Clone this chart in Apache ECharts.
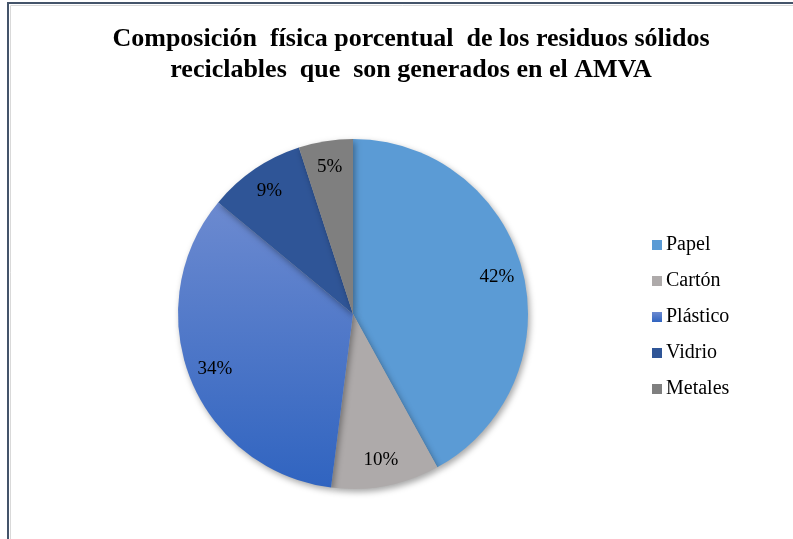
<!DOCTYPE html>
<html>
<head>
<meta charset="utf-8">
<script src="https://cdn.jsdelivr.net/npm/echarts@6/dist/echarts.min.js"></script>
<style>
  html, body { margin: 0; padding: 0; background: #fff; }
  #chart { width: 793px; height: 539px; }
</style>
</head>
<body>
<div id="chart"></div>
<script>
// données
var categories = ['Papel', 'Cartón', 'Plástico', 'Vidrio', 'Metales'];
var valores = [42, 10, 34, 9, 5];
var colores = [
  '#5b9bd5',
  '#aeaaaa',
  { type: 'linear', x: 0, y: 0, x2: 0, y2: 1,
    colorStops: [{ offset: 0, color: '#6c8ad0' }, { offset: 1, color: '#3064c0' }] },
  '#2f5597',
  '#7f7f7f'
];

var serif = '"Liberation Serif", "DejaVu Serif", serif';

var datos = categories.map(function (c, i) {
  return { name: c, value: valores[i], itemStyle: { color: colores[i] } };
});

var chart = echarts.init(document.getElementById('chart'));
chart.setOption({
  animation: false,
  title: {
    text: 'Composición  física porcentual  de los residuos sólidos\nreciclables  que  son generados en el AMVA',
    left: 406,
    top: 19,
    textAlign: 'center',
    textStyle: {
      fontFamily: serif,
      fontWeight: 'bold',
      fontSize: 26,
      lineHeight: 31,
      color: '#000'
    }
  },
  legend: {
    orient: 'vertical',
    left: 647,
    top: 230,
    icon: 'rect',
    itemWidth: 10,
    itemHeight: 10,
    itemGap: 16,
    data: categories,
    textStyle: { fontFamily: serif, fontSize: 20, color: '#000', padding: [0, 0, 0, -1] }
  },
  graphic: [
    { type: 'rect', shape: { x: 8, y: 3, width: 900, height: 700 },
      style: { fill: 'none', stroke: '#44546a', lineWidth: 2 }, silent: true },
    { type: 'rect', shape: { x: 10.5, y: 5.5, width: 900, height: 700 },
      style: { fill: 'none', stroke: '#d9d9d9', lineWidth: 1 }, silent: true }
  ],
  series: [
    {
      name: 'Composición',
      type: 'pie',
      center: [353, 314],
      radius: [0, 175],
      startAngle: 90,
      clockwise: true,
      label: { show: false },
      labelLine: { show: false },
      itemStyle: {
        borderWidth: 0,
        shadowBlur: 6,
        shadowOffsetX: 2,
        shadowOffsetY: 3,
        shadowColor: 'rgba(0,0,0,0.35)'
      },
      emphasis: { disabled: true },
      data: datos
    },
    {
      // anneau transparent pour placer les étiquettes vers l'extérieur
      name: 'etiquetas',
      type: 'pie',
      center: [353, 314],
      radius: [116, 175],
      startAngle: 90,
      clockwise: true,
      silent: true,
      itemStyle: { color: 'rgba(0,0,0,0)' },
      label: {
        show: true,
        position: 'inside',
        formatter: '{c}%',
        fontFamily: serif,
        fontSize: 19,
        color: '#000'
      },
      labelLine: { show: false },
      emphasis: { disabled: true },
      data: categories.map(function (c, i) { return { name: c, value: valores[i] }; })
    }
  ]
});
</script>
</body>
</html>
